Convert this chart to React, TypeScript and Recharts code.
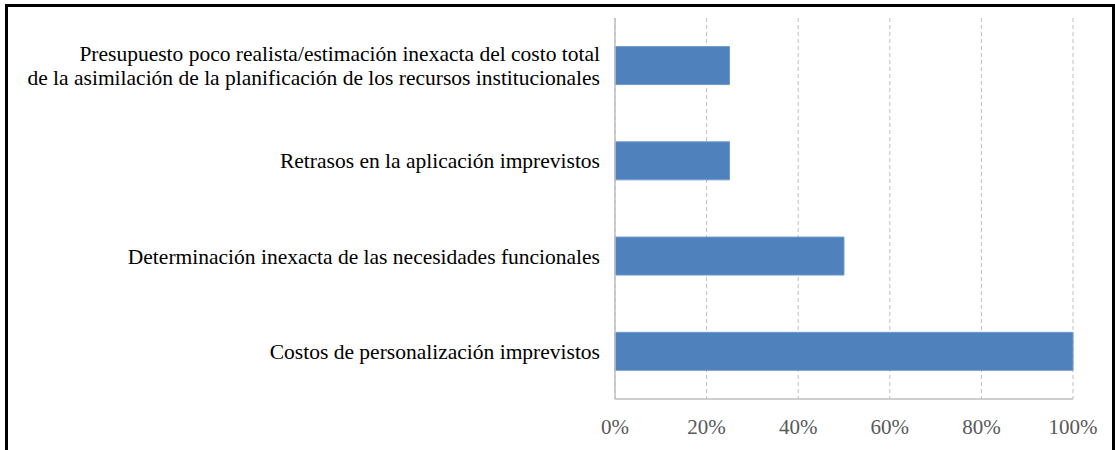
import { Bar, BarChart, CartesianGrid, XAxis, YAxis } from 'recharts'

const CATEGORIES = [
  'Presupuesto poco realista/estimación inexacta del costo total\nde la asimilación de la planificación de los recursos institucionales',
  'Retrasos en la aplicación imprevistos',
  'Determinación inexacta de las necesidades funcionales',
  'Costos de personalización imprevistos',
]
const VALUES = [25, 25, 50, 100]
const TICKS = [0, 20, 40, 60, 80, 100]

const data = CATEGORIES.map((name, i) => ({ name, value: VALUES[i] }))

const FONT = 'Times New Roman, Liberation Serif, DejaVu Serif, serif'

function CategoryTick(props: any) {
  const { x, y, payload } = props
  const lines = String(payload.value).split('\n')
  const lh = 24
  const start = y - ((lines.length - 1) * lh) / 2
  return (
    <text x={x} y={start} textAnchor="end" fill="#000" fontFamily={FONT} fontSize={21.5}>
      {lines.map((l, i) => (
        <tspan key={i} x={x} y={start + i * lh} dy="0.35em">
          {l}
        </tspan>
      ))}
    </text>
  )
}

export default function App() {
  return (
    <div style={{ position: 'fixed', left: 0, top: 0, width: 1115, height: 450, background: '#fff', fontFamily: FONT }}>
      <div
        style={{
          position: 'absolute',
          left: 5,
          top: 4,
          width: 1104,
          height: 460,
          border: '3px solid #000',
          borderBottom: 'none',
        }}
      />
      <div style={{ position: 'absolute', left: 0, top: 0 }}>
        <BarChart
          width={1115}
          height={450}
          data={data}
          layout="vertical"
          barCategoryGap="30%"
          margin={{ top: 18, right: 42, bottom: 0, left: 0 }}
          style={{ fontFamily: FONT }}
        >
          <CartesianGrid horizontal={false} stroke="#c0c0c0" strokeDasharray="4 3" />
          <XAxis
            type="number"
            domain={[0, 100]}
            ticks={TICKS}
            tickFormatter={(v) => `${v}%`}
            axisLine={{ stroke: '#bfbfbf', strokeWidth: 1.5 }}
            tickLine={false}
            tickMargin={14}
            height={51}
            tick={{ fill: '#595959', fontSize: 21, fontFamily: FONT }}
          />
          <YAxis
            type="category"
            dataKey="name"
            width={615}
            axisLine={{ stroke: '#bfbfbf', strokeWidth: 1.5 }}
            tickLine={false}
            tick={<CategoryTick />}
            tickMargin={9}
            interval={0}
          />
          <Bar dataKey="value" fill="#4f81bd" stroke="#6f9ad0" strokeWidth={1} isAnimationActive={false} />
        </BarChart>
      </div>
    </div>
  )
}
